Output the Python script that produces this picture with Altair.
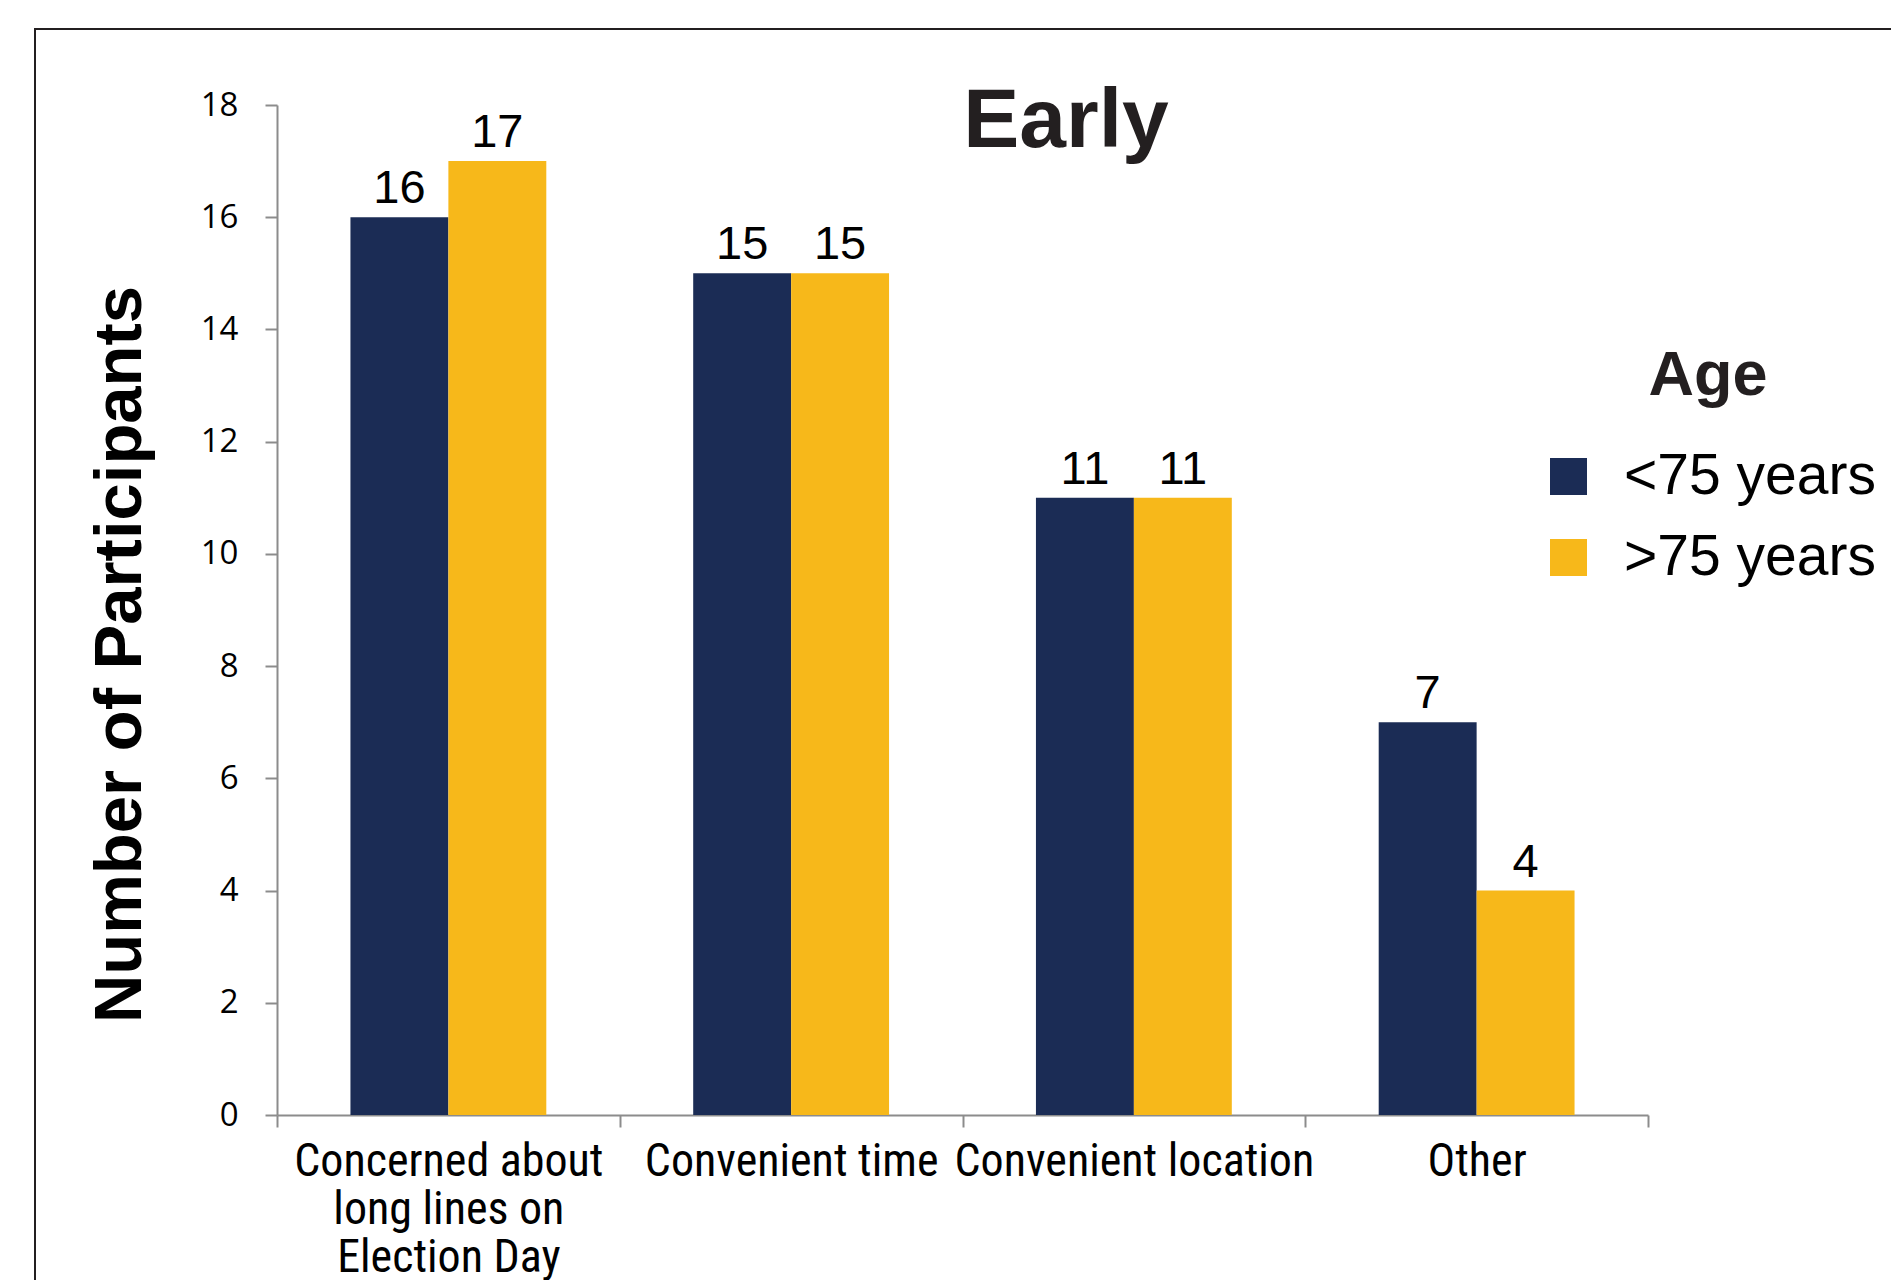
import altair as alt
import pandas as pd

categories = ["Concerned about long lines on Election Day", "Convenient time",
              "Convenient location", "Other"]
groups = ["<75 years", ">75 years"]
under_75 = [16, 15, 11, 7]
over_75 = [17, 15, 11, 4]
y_ticks = [0, 2, 4, 6, 8, 10, 12, 14, 16, 18]
colors = ["#1b2c55", "#f7b81a"]
chart_title = "Early"

rows = []
for c, a, b in zip(categories, under_75, over_75):
    rows.append({"reason": c, "Age": groups[0], "count": a})
    rows.append({"reason": c, "Age": groups[1], "count": b})
df = pd.DataFrame(rows)

W, H = 1371, 1010
axis_gray = "#8c8c8c"
narrow = "Roboto Condensed, DejaVu Sans Condensed, Liberation Sans"

label_expr = ("datum.label == 'Concerned about long lines on Election Day' ? "
              "['Concerned about', 'long lines on', 'Election Day'] : datum.label")

x_enc = alt.X("reason:N", sort=categories,
              scale=alt.Scale(paddingInner=0, paddingOuter=0),
              axis=alt.Axis(title=None, labelAngle=0, labelExpr=label_expr,
                            labelFont=narrow, labelFontSize=46,
                            labelLineHeight=48, labelColor="#000000",
                            labelPadding=12, tickSize=12, tickBand="extent",
                            domainColor=axis_gray, domainWidth=2,
                            tickColor=axis_gray, tickWidth=2, labelLimit=600))
xoff = alt.XOffset("Age:N", sort=groups,
                   scale=alt.Scale(paddingInner=0, paddingOuter=0.75))
y_enc = alt.Y("count:Q", scale=alt.Scale(domain=[0, 18], nice=False),
              axis=alt.Axis(values=y_ticks, format="d", grid=False,
                            title="Number of Participants",
                            titleFont="Liberation Sans", titleFontSize=67,
                            titleFontWeight="bold", titleColor="#000000",
                            titleAngle=270, titleBaseline="alphabetic",
                            titleAlign="center", titleX=-137, titleY=549,
                            labelFont="Open Sans", labelFontSize=33,
                            labelColor="#000000", labelPadding=27, tickSize=12,
                            domainColor=axis_gray, domainWidth=2,
                            tickColor=axis_gray, tickWidth=2))

bars = alt.Chart(df).mark_bar().encode(
    x=x_enc, xOffset=xoff, y=y_enc,
    color=alt.Color("Age:N", sort=groups,
                    scale=alt.Scale(domain=groups, range=colors),
                    legend=alt.Legend(title="Age", orient="none",
                                      legendX=1263, legendY=240,
                                      symbolType="square", symbolSize=1369,
                                      symbolStrokeWidth=0, symbolOpacity=1,
                                      labelFont="Liberation Sans", labelFontSize=57,
                                      labelColor="#000000", labelOffset=27,
                                      titleFont="Liberation Sans", titleFontSize=63,
                                      titleFontWeight="bold", titleColor="#231f20",
                                      titleAnchor="middle", titlePadding=40,
                                      rowPadding=23, padding=0, labelLimit=400)),
)

texts = alt.Chart(df).mark_text(baseline="alphabetic", dy=-14, fontSize=47,
                                font="Liberation Sans", color="#000000").encode(
    x=alt.X("reason:N", sort=categories), xOffset=alt.XOffset("Age:N", sort=groups),
    y="count:Q", text="count:Q",
)

title_mark = alt.Chart(alt.Data(values=[{"t": chart_title}])).mark_text(
    font="Liberation Sans", fontSize=84, fontWeight="bold", color="#231f20",
    align="center", baseline="alphabetic").encode(
    text="t:N", x=alt.value(789), y=alt.value(42))

frame = alt.Chart(alt.Data(values=[{}])).mark_rect(
    fillOpacity=0, stroke="#231f20", strokeWidth=2).encode(
    x=alt.value(-242), x2=alt.value(1700), y=alt.value(-76), y2=alt.value(1300))

chart = alt.layer(frame, bars, texts, title_mark).properties(
    width=W, height=H, background="white",
    autosize=alt.AutoSizeParams(type="none"),
    padding={"left": 269, "top": 97, "right": 243, "bottom": 165},
).configure_view(strokeWidth=0, stroke="transparent")

chart.save("out.html", embed_options={"renderer": "svg", "actions": False})
